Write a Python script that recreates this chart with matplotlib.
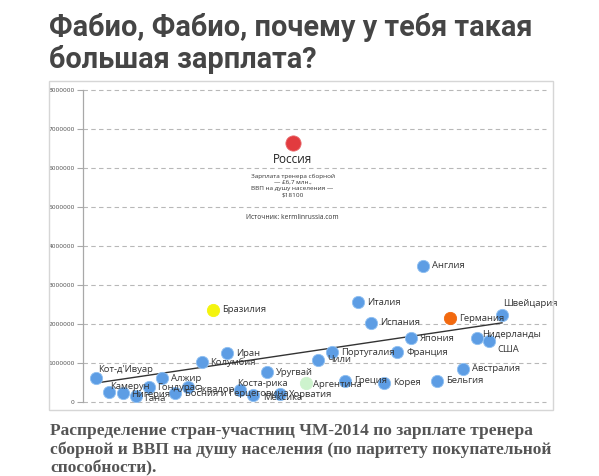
import matplotlib
matplotlib.use("Agg")
import matplotlib.pyplot as plt
from matplotlib.patches import Rectangle

# ---------------- data ----------------
countries = ["Россия", "Англия", "Италия", "Германия", "Швейцария", "Испания",
             "Бразилия", "Нидерланды", "США", "Япония", "Иран", "Португалия",
             "Франция", "Колумбия", "Чили", "Австралия", "Уругвай", "Кот-д'Ивуар",
             "Алжир", "Аргентина", "Греция", "Бельгия", "Корея", "Камерун",
             "Нигерия", "Гана", "Гондурас", "Эквадор", "Босния и Герцеговина",
             "Коста-рика", "Мексика", "Хорватия"]
gdp = [18100, 29380, 23760, 31710, 36200, 24880,
       11230, 34040, 35080, 28340, 12440, 21510,
       27130, 10280, 20300, 32830, 15900, 1120,
       6830, 19270, 22640, 30590, 26010, 2250,
       3460, 4580, 5700, 9070, 7950,
       13560, 14690, 17020]
salary = [6650000, 3490000, 2560000, 2150000, 2230000, 2030000,
          2360000, 1640000, 1560000, 1640000, 1260000, 1280000,
          1280000, 1030000, 1080000, 850000, 770000, 620000,
          620000, 490000, 540000, 540000, 490000, 260000,
          230000, 150000, 380000, 380000, 230000,
          310000, 180000, 210000]
trend_x = [1200, 36200]
trend_y = [490000, 2030000]
y_ticks = [0, 1000000, 2000000, 3000000, 4000000, 5000000, 6000000, 7000000, 8000000]
y_tick_labels = ["0", "1000000", "2000000", "3000000", "4000000", "5000000",
                 "6000000", "7000000", "8000000"]

title_lines = ["Фабио, Фабио, почему у тебя такая", "большая зарплата?"]
caption_lines = ["Распределение стран-участниц ЧМ-2014 по зарплате тренера",
                 "сборной и ВВП на душу населения (по паритету покупательной",
                 "способности)."]
russia_note = "Зарплата тренера сборной\n— £6,7 млн.,\nВВП на душу населения —\n$18100"
source_note = "Источник: kermlinrussia.com"

# ---------------- styles ----------------
special_colors = {"Россия": "#e23b3f", "Бразилия": "#f4f40e",
                  "Германия": "#f2690f", "Аргентина": "#cdf3cd"}
blue = "#5d9de4"
label_offsets = {  # pixel offsets of label left edge from point centre
    "Кот-д'Ивуар": (2, 8), "Камерун": (1, 5), "Нигерия": (8, -1), "Гана": (8, -2),
    "Гондурас": (8, 0), "Алжир": (9, -1), "Эквадор": (9, -2),
    "Босния и Герцеговина": (10, 0), "Коста-рика": (-3, 6), "Мексика": (10, -3),
    "Хорватия": (9, -1), "Уругвай": (9, -1), "Иран": (9, -1), "Колумбия": (8, -1),
    "Швейцария": (1, 12), "Нидерланды": (5, 4), "США": (8, -8), "Аргентина": (7, -2),
}

W, H = 599, 476
fig = plt.figure(figsize=(W / 100, H / 100), dpi=100)
fig.patch.set_facecolor("white")

def fx(px):
    return px / W

def fy(py):
    return 1 - py / H

# chart border
fig.patches.append(Rectangle((fx(49), fy(410)), fx(553) - fx(49), fy(81) - fy(410),
                             transform=fig.transFigure, fill=False,
                             edgecolor="#d6d6d6", linewidth=1.0))

ax = fig.add_axes([fx(83), fy(402), fx(546) - fx(83), fy(90) - fy(402)])
ax.set_xlim(0, 40000)
ax.set_ylim(0, 8000000)
for s in ["top", "right", "bottom"]:
    ax.spines[s].set_visible(False)
ax.spines["left"].set_color("#a8a8a8")
ax.spines["left"].set_linewidth(0.9)
ax.set_xticks([])
ax.set_yticks(y_ticks)
ax.set_yticklabels(y_tick_labels)
ax.tick_params(axis="y", length=4, width=0.8, color="#a8a8a8", labelsize=4.3,
               labelcolor="#555555", pad=2)
for t in y_ticks:
    ax.axhline(t, color="#b8b8b8", lw=0.8, ls=(0, (4, 3)), zorder=0, clip_on=False)

ax.plot(trend_x, trend_y, color="#333333", lw=1.0, zorder=2)

for name, x, y in zip(countries, gdp, salary):
    c = special_colors.get(name, blue)
    size = 120 if name == "Россия" else 78
    ec = "#e86a6d" if name == "Россия" else ("#8fc0f2" if c == blue else c)
    ax.scatter([x], [y], s=size, color=c, edgecolors=ec, linewidths=0.6, zorder=3)
    if name == "Россия":
        continue
    dx, dy = label_offsets.get(name, (9, 0))
    ax.annotate(name, (x, y), xytext=(dx, dy), textcoords="offset pixels",
                ha="left", va="center", fontsize=6.8, color="#333333",
                family="Open Sans", zorder=4)

# Russia notes
rx, ry = gdp[0], salary[0]
ax.annotate("Россия", (rx, ry), xytext=(0, -17), textcoords="offset pixels",
            ha="center", va="center", fontsize=8.5, color="#222222", family="Open Sans")
ax.annotate(russia_note, (rx, ry), xytext=(0, -43), textcoords="offset pixels",
            ha="center", va="center", fontsize=4.6, color="#333333", family="Open Sans",
            linespacing=1.35)
ax.annotate(source_note, (rx, ry), xytext=(0, -75), textcoords="offset pixels",
            ha="center", va="center", fontsize=4.8, color="#333333", family="Open Sans")

for line, base in zip(title_lines, [36.5, 67.5]):
    fig.text(fx(49), fy(base), line, ha="left", va="baseline", fontsize=20.8,
             fontweight="bold", color="#454545", family="Roboto")
for line, base in zip(caption_lines, [435, 453.5, 472]):
    fig.text(fx(50), fy(base), line, ha="left", va="baseline", fontsize=12.5,
             fontweight="bold", color="#555555",
             family=["Liberation Serif", "DejaVu Serif"])

fig.savefig("out.png", dpi=100, facecolor="white")
